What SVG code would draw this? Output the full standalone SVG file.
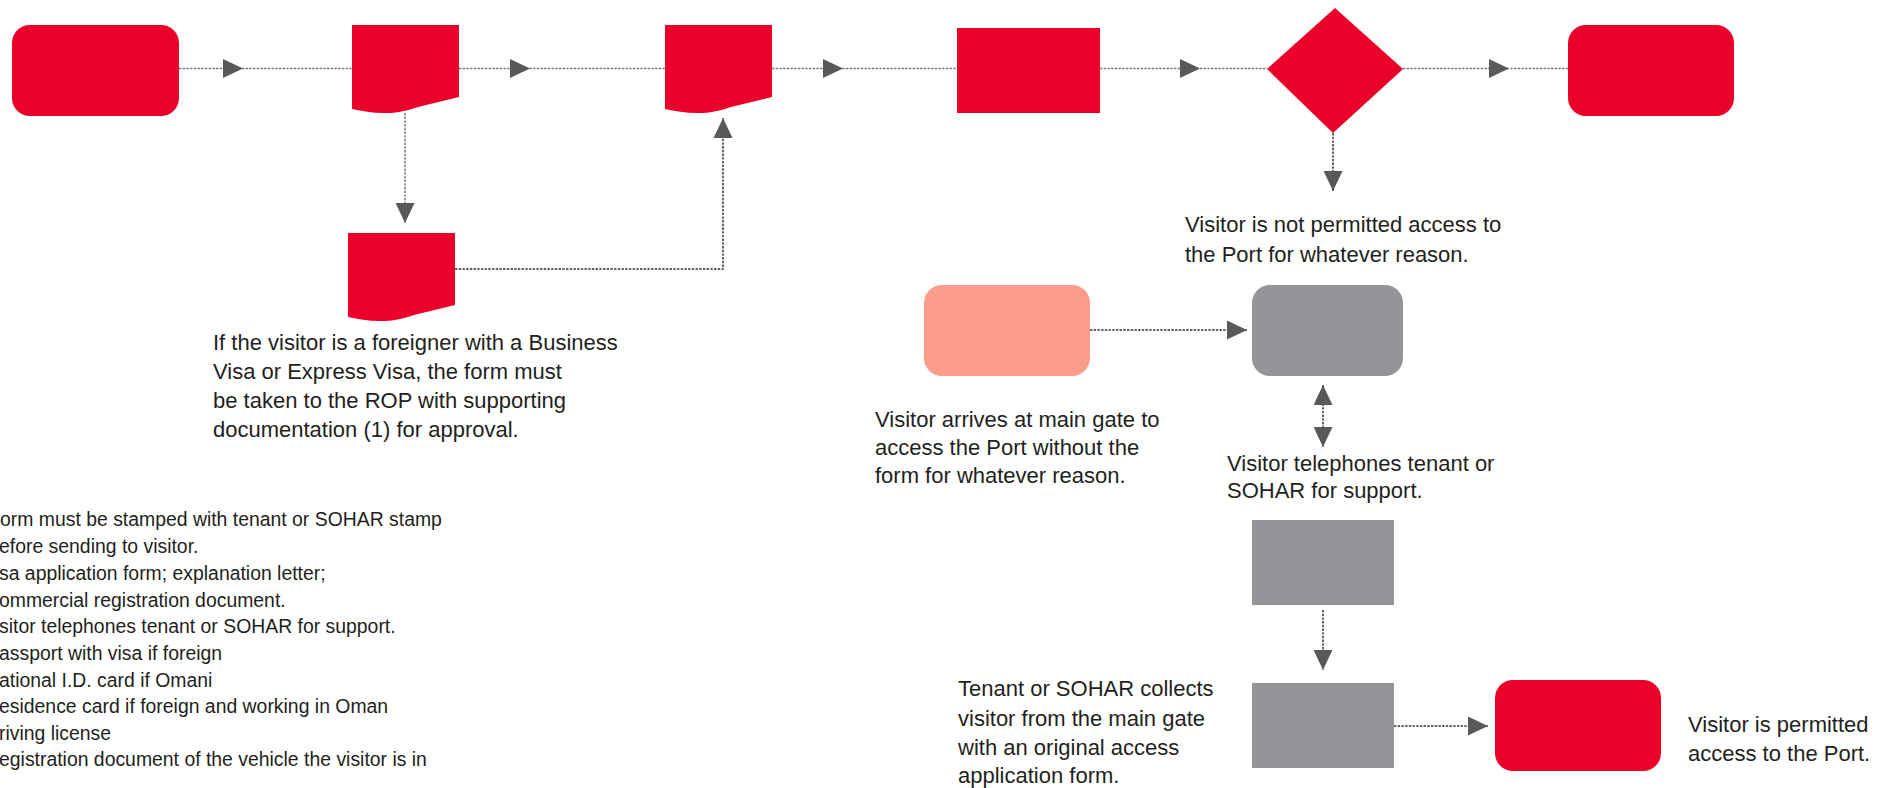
<svg xmlns="http://www.w3.org/2000/svg" width="1892" height="788" viewBox="0 0 1892 788">
<style>
.red{fill:#eb0029}
.salmon{fill:#fa9b8b}
.gray{fill:#939598}
.c{fill:none;stroke:#77787b;stroke-width:1.5;stroke-dasharray:2.4 1.3}
.dk{stroke:#333333}
.t{font-family:"Liberation Sans",Arial,sans-serif;font-size:22px;fill:#231f20}
.lg{font-family:"Liberation Sans",Arial,sans-serif;font-size:19.4px;fill:#231f20}
</style>
<defs>
<marker id="ah" markerUnits="userSpaceOnUse" markerWidth="20" markerHeight="19" refX="20" refY="9.5" orient="auto-start-reverse" viewBox="0 0 20 19">
<path d="M0,0 L20,9.5 L0,19 Z" fill="#58595b"/>
</marker>
</defs>
<g id="connectors">
<path class="c" d="M179,68.5 L243,68.5 L352,68.5" marker-mid="url(#ah)"/>
<path class="c" d="M459,68.5 L530,68.5 L665,68.5" marker-mid="url(#ah)"/>
<path class="c" d="M772,68.5 L843,68.5 L957,68.5" marker-mid="url(#ah)"/>
<path class="c" d="M1100,68.5 L1200,68.5 L1267,68.5" marker-mid="url(#ah)"/>
<path class="c" d="M1403,68.5 L1509,68.5 L1568,68.5" marker-mid="url(#ah)"/>
<path class="c" d="M405,113 V223" marker-end="url(#ah)"/>
<path class="c dk" d="M455,269 H723 V118" marker-end="url(#ah)"/>
<path class="c dk" d="M1333,133 V191" marker-end="url(#ah)"/>
<path class="c dk" d="M1090,330 H1247" marker-end="url(#ah)"/>
<path class="c dk" d="M1323,385 V447" marker-start="url(#ah)" marker-end="url(#ah)"/>
<path class="c dk" d="M1323,610 V670" marker-end="url(#ah)"/>
<path class="c dk" d="M1394,726 H1488" marker-end="url(#ah)"/>
</g>
<g id="start"><rect class="red" x="12" y="25" width="167" height="91" rx="18"/></g>
<g id="doc1"><path class="red" d="M352,25 H459 V97 L418,107 C405,111 398,113 384,113 C372,113 362,111 352,109 Z"/></g>
<g id="doc2"><path class="red" d="M665,25 H772 V97 L731,107 C718,111 711,113 697,113 C685,113 675,111 665,109 Z"/></g>
<g id="doc3">
<path class="red" d="M348,233 H455 V305 L414,315 C401,319 394,321 380,321 C368,321 358,319 348,317 Z"/>
<text class="t" x="213" y="350">If the visitor is a foreigner with a Business</text>
<text class="t" x="213" y="379">Visa or Express Visa, the form must</text>
<text class="t" x="213" y="408">be taken to the ROP with supporting</text>
<text class="t" x="213" y="437">documentation (1) for approval.</text>
</g>
<g id="process"><rect class="red" x="957" y="28" width="143" height="85"/></g>
<g id="decision">
<polygon class="red" points="1335,8 1403,69 1333,133 1267,69"/>
<text class="t" x="1185" y="232">Visitor is not permitted access to</text>
<text class="t" x="1185" y="262">the Port for whatever reason.</text>
</g>
<g id="end"><rect class="red" x="1568" y="25" width="166" height="91" rx="18"/></g>
<g id="arrive">
<rect class="salmon" x="924" y="285" width="166" height="91" rx="18"/>
<text class="t" x="875" y="427">Visitor arrives at main gate to</text>
<text class="t" x="875" y="455">access the Port without the</text>
<text class="t" x="875" y="483">form for whatever reason.</text>
</g>
<g id="gate">
<rect class="gray" x="1252" y="285" width="151" height="91" rx="18"/>
<text class="t" x="1227" y="471">Visitor telephones tenant or</text>
<text class="t" x="1227" y="498">SOHAR for support.</text>
</g>
<g id="boxA"><rect class="gray" x="1252" y="520" width="142" height="85"/></g>
<g id="boxB">
<rect class="gray" x="1252" y="683" width="142" height="85"/>
<text class="t" x="958" y="696">Tenant or SOHAR collects</text>
<text class="t" x="958" y="726">visitor from the main gate</text>
<text class="t" x="958" y="755">with an original access</text>
<text class="t" x="958" y="783">application form.</text>
</g>
<g id="permitted">
<rect class="red" x="1495" y="680" width="166" height="91" rx="18"/>
<text class="t" x="1688" y="732">Visitor is permitted</text>
<text class="t" x="1688" y="761">access to the Port.</text>
</g>
<g id="legend">
<text class="lg" x="0" y="526">orm must be stamped with tenant or SOHAR stamp</text>
<text class="lg" x="-1" y="553">efore sending to visitor.</text>
<text class="lg" x="-1" y="580">sa application form; explanation letter;</text>
<text class="lg" x="-1" y="607">ommercial registration document.</text>
<text class="lg" x="-1" y="633">sitor telephones tenant or SOHAR for support.</text>
<text class="lg" x="-1" y="660">assport with visa if foreign</text>
<text class="lg" x="-1" y="687">ational I.D. card if Omani</text>
<text class="lg" x="-1" y="713">esidence card if foreign and working in Oman</text>
<text class="lg" x="-1" y="740">riving license</text>
<text class="lg" x="-1" y="766">egistration document of the vehicle the visitor is in</text>
</g>
</svg>
